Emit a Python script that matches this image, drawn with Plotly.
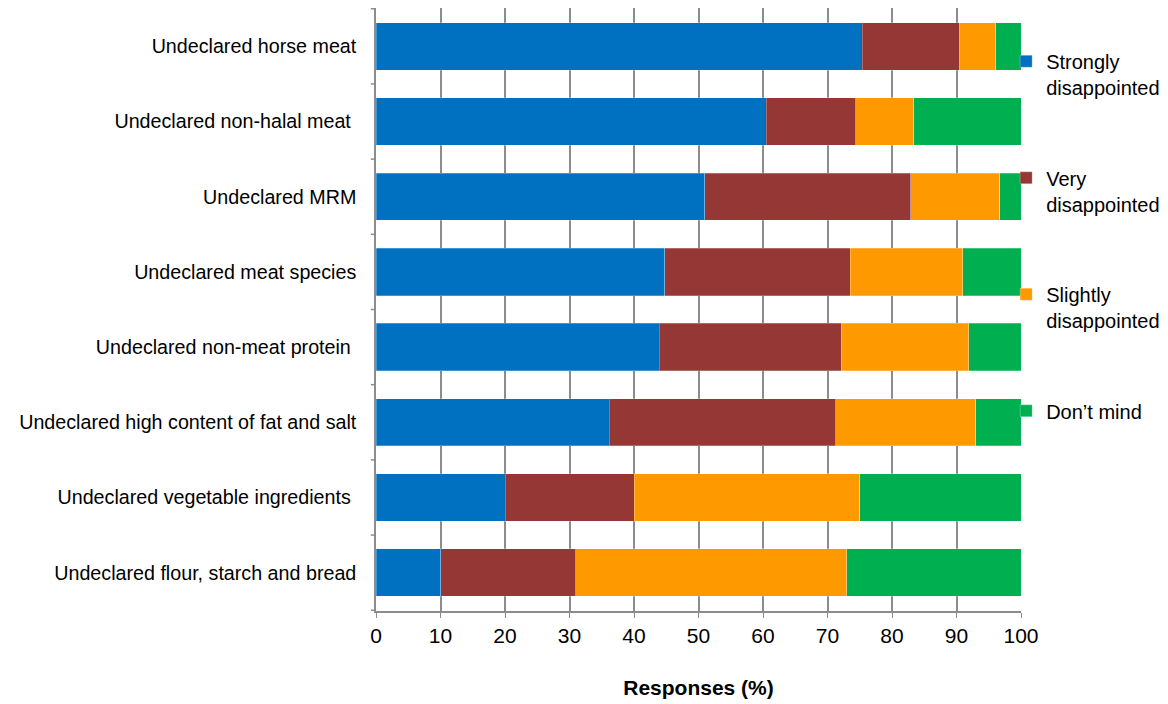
import plotly.graph_objects as go

# Survey items (top to bottom)
categories = [
    "Undeclared horse meat",
    "Undeclared non-halal meat\u00a0",
    "Undeclared MRM",
    "Undeclared meat species",
    "Undeclared non-meat protein\u00a0",
    "Undeclared high content of fat and salt",
    "Undeclared vegetable ingredients\u00a0",
    "Undeclared flour, starch and bread",
]

# Share of responses (%) per reaction
strongly = [75.4, 60.5, 51.0, 44.8, 43.9, 36.2, 20.0, 10.0]
very = [15.0, 13.9, 31.9, 28.7, 28.2, 35.1, 20.0, 21.0]
slightly = [5.7, 9.0, 13.8, 17.5, 19.8, 21.7, 35.0, 42.0]
dont_mind = [3.9, 16.6, 3.3, 9.0, 8.1, 7.0, 25.0, 27.0]

series = [
    ("Strongly<br>disappointed", strongly, "#0070C0"),
    ("Very<br>disappointed", very, "#953735"),
    ("Slightly<br>disappointed", slightly, "#FF9900"),
    ("Don\u2019t mind", dont_mind, "#00B050"),
]

x_ticks = list(range(0, 101, 10))

fig = go.Figure()
for i, (name, vals, color) in enumerate(series):
    fig.add_trace(go.Bar(
        y=categories,
        x=vals,
        name=name,
        orientation="h",
        marker=dict(color=color, line=dict(color="rgba(255,255,255,0.5)", width=0.5)),
        legendgroup=f"g{i}",
        width=0.63,
    ))

fig.update_layout(
    barmode="stack",
    width=1168,
    height=704,
    margin=dict(l=376, r=147, t=8, b=93, autoexpand=False),
    paper_bgcolor="white",
    plot_bgcolor="white",
    font=dict(family="Liberation Sans, Arial, sans-serif", size=20, color="#000000"),
    legend=dict(
        x=0.977, xanchor="left", y=0.944, yanchor="top",
        traceorder="grouped",
        tracegroupgap=61.5,
        valign="top",
        font=dict(size=20),
        itemwidth=30,
        bgcolor="rgba(0,0,0,0)",
    ),
    showlegend=True,
)

fig.update_xaxes(
    range=[0, 100],
    tickvals=x_ticks,
    showgrid=True,
    gridcolor="#8C8C8C",
    gridwidth=2,
    showline=True,
    linecolor="#8C8C8C",
    linewidth=1.5,
    ticks="outside",
    ticklen=5,
    tickcolor="#8C8C8C",
    tickfont=dict(size=21),
    title=dict(text="<b>Responses (%)</b>", font=dict(size=21), standoff=34),
    zeroline=False,
    fixedrange=True,
)

fig.update_yaxes(
    categoryorder="array",
    categoryarray=categories,
    autorange="reversed",
    showgrid=False,
    showline=True,
    linecolor="#8C8C8C",
    linewidth=1.5,
    ticks="",
    tickfont=dict(size=19.7),
    ticklabelstandoff=14,
    fixedrange=True,
)

# Category boundary ticks on the y axis
for k in range(9):
    fig.add_shape(
        type="line", xref="paper", yref="y",
        x0=-0.008, x1=0, y0=k - 0.5, y1=k - 0.5,
        line=dict(color="#8C8C8C", width=1.5),
    )

fig.write_html("out.html")
